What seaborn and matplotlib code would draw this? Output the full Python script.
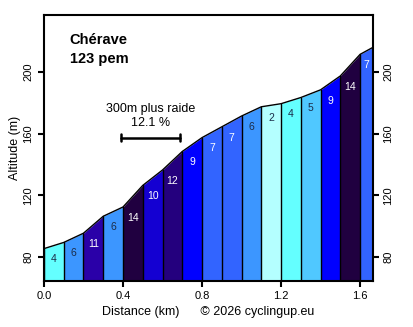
import matplotlib
matplotlib.use("Agg")
import matplotlib.pyplot as plt
import numpy as np
import pandas as pd
import seaborn as sns

# segment boundaries (km) and gradients (%)
dist_km = [0.0, 0.1, 0.2, 0.3, 0.4, 0.5, 0.6, 0.7, 0.8, 0.9, 1.0,
           1.1, 1.2, 1.3, 1.4, 1.5, 1.6, 1.665]
gradients = [4, 6, 11, 6, 14, 10, 12, 9, 7, 7, 6, 2, 4, 5, 9, 14, 7]
start_alt = 85.5

grad_colors = {
    2: "#b4ffff", 4: "#64ffff", 5: "#50c8ff", 6: "#3c96ff", 7: "#3264ff",
    9: "#0000ff", 10: "#1400d2", 11: "#2a00a8", 12: "#24007e", 14: "#200040",
}

title = "Chérave"
subtitle = "123 pem"
steep_label = "300m plus raide\n12.1 %"
steep_range = [0.39, 0.69]
steep_alt = 157.5

# altitudes from gradients
alts = [start_alt]
for i, g in enumerate(gradients):
    alts.append(alts[-1] + g / 100 * (dist_km[i + 1] - dist_km[i]) * 1000)
profile = pd.DataFrame({"km": dist_km, "alt": alts})

sns.set_style("ticks")
plt.rcParams["font.family"] = ["Liberation Sans", "DejaVu Sans"]
plt.rcParams["text.color"] = "black"
plt.rcParams["axes.labelcolor"] = "black"
plt.rcParams["xtick.color"] = "black"
plt.rcParams["ytick.color"] = "black"

fig = plt.figure(figsize=(4.13, 3.27), dpi=100)
ax = fig.add_axes([0.1065, 0.1407, 0.7965, 0.8133])
ymin, ymax = 64.5, 237

for i, g in enumerate(gradients):
    x0, x1 = dist_km[i], dist_km[i + 1]
    ax.fill_between([x0, x1], [alts[i], alts[i + 1]], ymin,
                    color=grad_colors[g], lw=0)
    ax.plot([x0, x0], [ymin, alts[i]], color="black", lw=1)
    tc = "#1c2c48" if g <= 6 else "white"
    ax.text((x0 + x1) / 2, alts[i] - 7, str(g), ha="center", va="center",
            fontsize=7.5, color=tc)

sns.lineplot(data=profile, x="km", y="alt", color="black", lw=1, ax=ax)

ax.text(0.13, 221, title, fontsize=10.5, fontweight="bold", va="center")
ax.text(0.13, 208.5, subtitle, fontsize=10.5, fontweight="bold", va="center")
ax.text(sum(steep_range) / 2, steep_alt + 14, steep_label, ha="center",
        va="center", fontsize=9, linespacing=1.25)
ax.plot(steep_range, [steep_alt, steep_alt], color="black", lw=1.8)
for xv in steep_range:
    ax.plot([xv, xv], [steep_alt - 2.5, steep_alt + 2.5], color="black", lw=1.8)

ax.set_xlim(0, dist_km[-1])
ax.set_ylim(ymin, ymax)
ax.set_xticks([0.0, 0.4, 0.8, 1.2, 1.6])
ax.set_xticklabels(["0.0", "0.4", "0.8", "1.2", "1.6"])
ax.set_yticks([80, 120, 160, 200])
ax.set_yticklabels(["80", "120", "160", "200"])
ax.tick_params(axis="both", labelsize=8, length=4, width=1.5, direction="out",
               right=True, labelright=True)
for lab in ax.get_yticklabels(which="both"):
    lab.set_rotation(90)
    lab.set_va("center")
ax.set_xlabel("Distance (km)      © 2026 cyclingup.eu", fontsize=9, labelpad=3)
ax.set_ylabel("Altitude (m)", fontsize=9, labelpad=2)
for s in ax.spines.values():
    s.set_visible(True)
    s.set_linewidth(1.5)
    s.set_color("black")

fig.savefig("out.png", dpi=100)
